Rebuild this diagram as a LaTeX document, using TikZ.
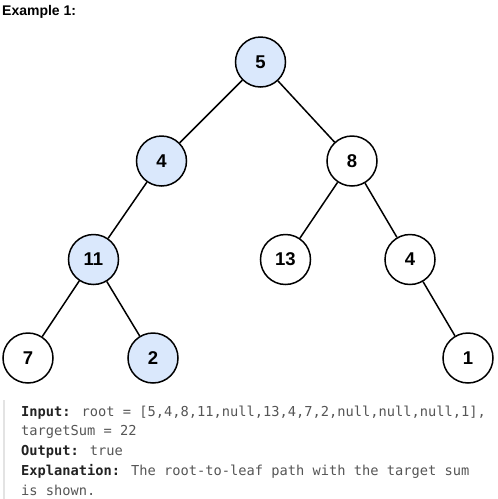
\documentclass[tikz,border=0pt]{standalone}
\usepackage{fontspec}
\newfontfamily\labfont{Liberation Sans}
\newfontfamily\codefont{DejaVu Sans Mono}
\definecolor{hlblue}{HTML}{DAE8FC}
\definecolor{codegray}{HTML}{555555}
\definecolor{codedark}{HTML}{222222}
\definecolor{bargray}{HTML}{E3E3E3}
\tikzset{
  treenode/.style={circle, draw=black, line width=1.5pt, minimum size=50pt, inner sep=0pt, fill=white,
    font=\labfont\bfseries\fontsize{18.5}{20}\selectfont},
  hl/.style={fill=hlblue},
  edge/.style={line width=1.5pt, draw=black},
  codeline/.style={anchor=base west, inner sep=0pt, text=codegray, font=\codefont\fontsize{13.7}{16}\selectfont},
}
\newcommand{\kw}[1]{\textcolor{codedark}{\bfseries #1}}
\begin{document}
\begin{tikzpicture}[x=1pt,y=-1pt]
\useasboundingbox (0,0) rectangle (498,499);
\node[anchor=base west, inner sep=0pt, font=\labfont\bfseries\fontsize{14}{16}\selectfont] (title) at (2,15) {Example 1:};

\node[treenode,hl] (n5) at (260.5,62) {5};
\node[treenode,hl] (n4) at (161.5,161) {4};
\node[treenode] (n8) at (352,161) {8};
\node[treenode,hl] (n11) at (93.5,259.5) {11};
\node[treenode] (n13) at (285.5,259.5) {13};
\node[treenode] (n4b) at (410,259.5) {4};
\node[treenode] (n7) at (28,358) {7};
\node[treenode,hl] (n2) at (153,358) {2};
\node[treenode] (n1) at (468,358) {1};

\draw[edge] (n5) -- (n4);
\draw[edge] (n5) -- (n8);
\draw[edge] (n4) -- (n11);
\draw[edge] (n8) -- (n13);
\draw[edge] (n8) -- (n4b);
\draw[edge] (n11) -- (n7);
\draw[edge] (n11) -- (n2);
\draw[edge] (n4b) -- (n1);

\fill[bargray] (3,400) rectangle (5,499);
\node[codeline] (c1) at (21,416) {\kw{Input:} root = [5,4,8,11,null,13,4,7,2,null,null,null,1],};
\node[codeline] (c2) at (21,435.8) {targetSum = 22};
\node[codeline] (c3) at (21,455.5) {\kw{Output:} true};
\node[codeline] (c4) at (21,475.3) {\kw{Explanation:} The root-to-leaf path with the target sum};
\node[codeline] (c5) at (21,495) {is shown.};
\end{tikzpicture}
\end{document}
